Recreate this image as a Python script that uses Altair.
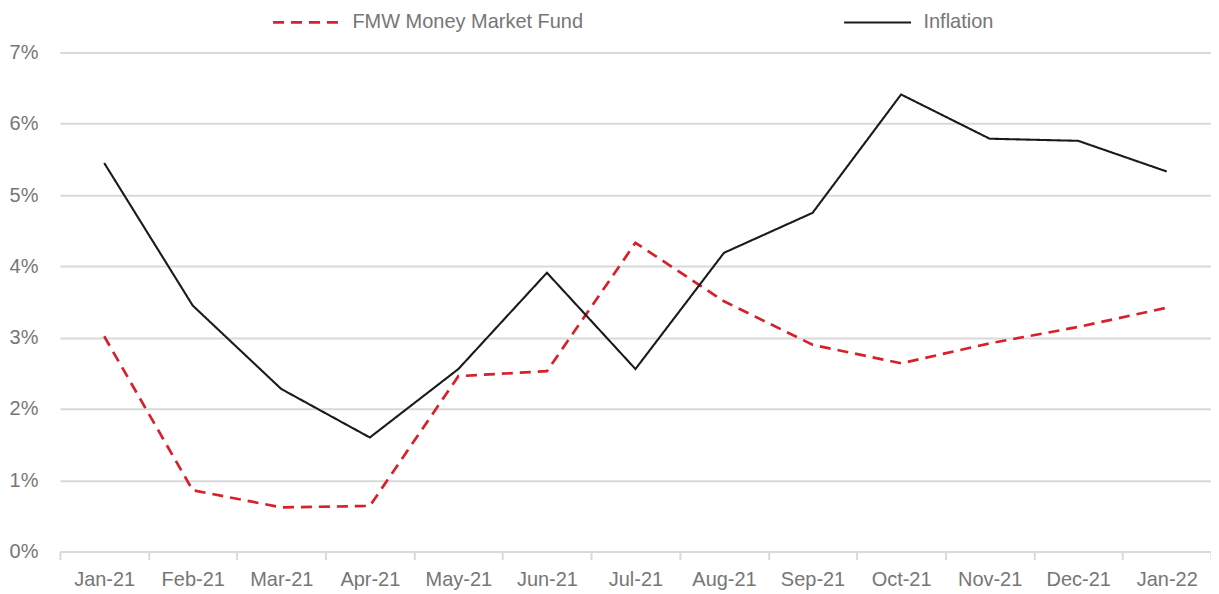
import altair as alt
import pandas as pd

months = ["Jan-21", "Feb-21", "Mar-21", "Apr-21", "May-21", "Jun-21", "Jul-21",
          "Aug-21", "Sep-21", "Oct-21", "Nov-21", "Dec-21", "Jan-22"]
fmw = [3.02, 0.86, 0.62, 0.64, 2.46, 2.53, 4.33, 3.51, 2.90, 2.64, 2.92, 3.15, 3.42]
inflation = [5.45, 3.45, 2.28, 1.60, 2.56, 3.91, 2.56, 4.19, 4.75, 6.41, 5.79, 5.76, 5.33]
series_names = ["FMW Money Market Fund", "Inflation"]
y_ticks = [0, 1, 2, 3, 4, 5, 6, 7]

rows = []
for m, v in zip(months, fmw):
    rows.append({"month": m, "value": v, "series": series_names[0]})
for m, v in zip(months, inflation):
    rows.append({"month": m, "value": v, "series": series_names[1]})
df = pd.DataFrame(rows)

FONT = "Liberation Sans, Arial, sans-serif"
GRAY = "#767676"
GRID = "#d9d9d9"

legend = alt.Legend(
    title=None, orient="none", legendX=212, legendY=-65,
    direction="horizontal", symbolType="stroke", symbolSize=4489,
    symbolStrokeWidth=2.6, labelFont=FONT, labelFontSize=20,
    labelColor=GRAY, labelLimit=600, labelOffset=11, columnPadding=256,
    padding=0,
)

chart = alt.Chart(df).mark_line().encode(
    x=alt.X(
        "month:N", sort=months, bandPosition=0.5,
        scale=alt.Scale(type="band", paddingInner=0, paddingOuter=0),
        axis=alt.Axis(
            title=None, tickBand="extent", grid=False, labelAngle=0,
            domainColor=GRID, domainWidth=2, tickColor=GRID, tickWidth=2,
            tickSize=8, labelPadding=10, labelFont=FONT, labelFontSize=20,
            labelColor=GRAY,
        ),
    ),
    y=alt.Y(
        "value:Q",
        scale=alt.Scale(domain=[0, 7], nice=False),
        axis=alt.Axis(
            title=None, values=y_ticks, labelExpr="datum.value + '%'",
            domain=False, ticks=False, grid=True, gridColor=GRID,
            gridWidth=2, labelPadding=22, labelFont=FONT, labelFontSize=20,
            labelColor=GRAY,
        ),
    ),
    color=alt.Color(
        "series:N",
        scale=alt.Scale(domain=series_names, range=["#d7202a", "#1a1a1a"]),
        legend=legend,
    ),
    strokeDash=alt.StrokeDash(
        "series:N",
        scale=alt.Scale(domain=series_names, range=[[11, 7], [1, 0]]),
        legend=legend,
    ),
    strokeWidth=alt.StrokeWidth(
        "series:N",
        scale=alt.Scale(domain=series_names, range=[2.7, 2.1]),
        legend=None,
    ),
).properties(
    width=1153, height=500,
    padding={"left": 52, "top": 44, "right": 0, "bottom": 40},
    autosize="none",
).configure_view(stroke=None)

chart.save("out.html", embed_options={"renderer": "svg", "actions": False})
